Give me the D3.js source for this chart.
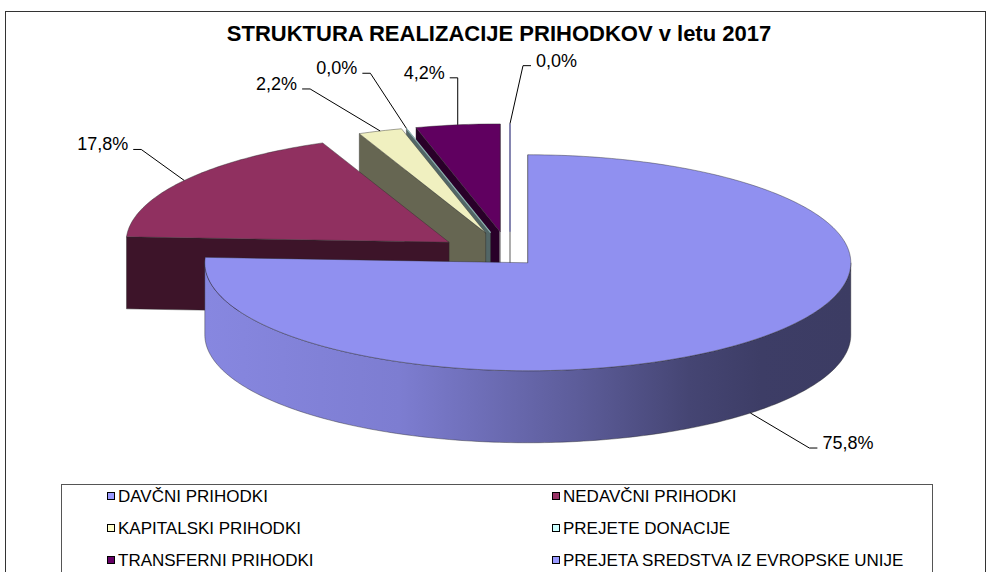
<!DOCTYPE html>
<html><head><meta charset="utf-8">
<script src="https://cdn.jsdelivr.net/npm/d3@7"></script>
<style>body{margin:0;background:#fff}svg{display:block}</style>
</head><body>
<svg id="chart" width="992" height="572"></svg>
<script>
// ---- data ----
const titleText = "STRUKTURA REALIZACIJE PRIHODKOV v letu 2017";
const categories = ["DAVČNI PRIHODKI","NEDAVČNI PRIHODKI","KAPITALSKI PRIHODKI","PREJETE DONACIJE","TRANSFERNI PRIHODKI","PREJETA SREDSTVA IZ EVROPSKE UNIJE"];
const shares = [75.8, 17.8, 2.2, 0.0, 4.2, 0.0];
const colors = ["#9999FF","#993366","#FFFFCC","#CCFFFF","#660066","#9999FF"];

// ---- layout ----
const FONT = "'Liberation Sans', Arial, sans-serif";
const cx = 510, cy = 256.5, rx = 323, ry = 108, depth = 72;
const explode = [0.08, 0.23, 0.23, 0.23, 0.23, 0.23];
const labelOffsets = [[59,35],[-43,-31],[-70,-42],[-36,-55],[0,-47],[13,-58]];
const fmt = d3.formatLocale({decimal:",", thousands:".", grouping:[3], currency:["","€"], percent:"%"}).format(".1%");

const svg = d3.select("#chart");
const shade = (col, f) => { const c = d3.rgb(col); return d3.rgb(c.r*f, c.g*f, c.b*f).formatHex(); };

// frame
svg.append("rect").attr("x",5.5).attr("y",11.5).attr("width",980).attr("height",620)
  .attr("fill","#fff").attr("stroke","#333").attr("stroke-width",1);

// title
svg.append("text").attr("x",499).attr("y",41).attr("text-anchor","middle")
  .attr("font-family",FONT).attr("font-weight","bold").attr("font-size",22).text(titleText);

const arcs = d3.pie().sort(null).value(d=>d)(shares);
const pt = (c, th, dz=0) => [c[0] + rx*Math.sin(th), c[1] - ry*Math.cos(th) + dz];
const arcPts = (c, a, b, dz) => {
  const n = Math.max(2, Math.ceil(Math.abs(b-a)/(Math.PI/180)));
  return d3.range(n+1).map(i => pt(c, a + (b-a)*i/n, dz));
};
const line = d3.line();

const slices = arcs.map((a,i) => {
  const mid = a.endAngle > a.startAngle ? (a.startAngle + a.endAngle)/2 : a.startAngle;
  const c = [cx + explode[i]*rx*Math.sin(mid), cy - explode[i]*ry*Math.cos(mid)];
  return {i, a: a.startAngle, b: a.endAngle, mid, c, color: colors[i]};
});

const defs = svg.append("defs");
const gStops = [[0,0.88],[0.3,0.82],[0.58,0.6],[0.75,0.45],[0.86,0.4],[1,0.39]];

const pieG = svg.append("g");
const order = slices.slice().sort((p,q) => Math.cos(q.mid) - Math.cos(p.mid));
const EPS = 1e-9;
order.forEach(s => {
  const g = pieG.append("g");
  const c = s.c;
  const faceAt = th => [c, pt(c,th), pt(c,th,depth), [c[0], c[1]+depth]];
  const drawFace = (th, normal) => {
    const cn = Math.cos(normal);
    if (cn > EPS) return;
    const edgeOn = Math.abs(cn) <= EPS;
    g.append("path").attr("d", line(faceAt(th)) + "Z")
      .attr("fill", shade(s.color, 0.4))
      .attr("stroke", edgeOn ? "#a8a8a8" : "#2a2a2a")
      .attr("stroke-width", edgeOn ? 1.5 : 0.6)
      .attr("stroke-opacity", edgeOn ? 1 : 0.7);
  };
  drawFace(s.a, s.a - Math.PI/2);
  drawFace(s.b, s.b + Math.PI/2);
  // curved front side
  const a2 = Math.max(s.a, Math.PI/2), b2 = Math.min(s.b, 3*Math.PI/2);
  if (b2 > a2) {
    const gid = "side" + s.i;
    const lg = defs.append("linearGradient").attr("id", gid).attr("gradientUnits","userSpaceOnUse")
      .attr("x1", c[0]-rx).attr("x2", c[0]+rx).attr("y1",0).attr("y2",0);
    gStops.forEach(([o,f]) => lg.append("stop").attr("offset", o).attr("stop-color", shade(s.color, f)));
    const pts = arcPts(c, a2, b2, 0).concat(arcPts(c, b2, a2, depth));
    g.append("path").attr("d", line(pts) + "Z").attr("fill", `url(#${gid})`)
      .attr("stroke","#2a2a2a").attr("stroke-width",0.6).attr("stroke-opacity",0.7);
  }
  // top face
  if (s.b > s.a) {
    const pts = [c].concat(arcPts(c, s.a, s.b, 0));
    g.append("path").attr("d", line(pts) + "Z").attr("fill", shade(s.color, 0.94))
      .attr("stroke","#2a2a2a").attr("stroke-width",0.6).attr("stroke-opacity",0.7);
  } else {
    g.append("path").attr("d", line([c, pt(c, s.a)]))
      .attr("stroke", shade(s.color, 0.7)).attr("stroke-width", 1.2).attr("fill","none");
  }
});

// labels
const labG = svg.append("g");
slices.forEach(s => {
  const anchor = pt(s.c, s.mid, Math.cos(s.mid) < 0 ? depth : 0);
  const off = labelOffsets[s.i];
  const elbow = [anchor[0] + off[0], anchor[1] + off[1]];
  const dir = off[0] > 0 ? 1 : -1;
  const tick = [elbow[0] + dir*8, elbow[1]];
  labG.append("path").attr("d", line([anchor, elbow, tick]))
    .attr("fill","none").attr("stroke","#000").attr("stroke-width",1);
  labG.append("text").attr("x", tick[0] + dir*5).attr("y", elbow[1] + 1)
    .attr("text-anchor", dir > 0 ? "start" : "end")
    .attr("font-family", FONT).attr("font-size", 18).attr("fill","#000")
    .text(fmt(shares[s.i]/100));
});

// legend
svg.append("rect").attr("x",61.5).attr("y",484.5).attr("width",871).attr("height",120)
  .attr("fill","#fff").attr("stroke","#555").attr("stroke-width",1);
const colX = [107, 552], rowY = [496, 528, 560];
const leg = svg.append("g");
categories.forEach((name, i) => {
  const x = colX[i % 2], y = rowY[Math.floor(i/2)];
  leg.append("rect").attr("x", x + 0.5).attr("y", y - 3.5).attr("width", 7).attr("height", 7)
    .attr("fill", colors[i]).attr("stroke","#000").attr("stroke-width",1);
  leg.append("text").attr("x", x + 11).attr("y", y + 6)
    .attr("font-family", FONT).attr("font-size", 17).attr("fill","#000").text(name);
});
</script>
</body></html>
